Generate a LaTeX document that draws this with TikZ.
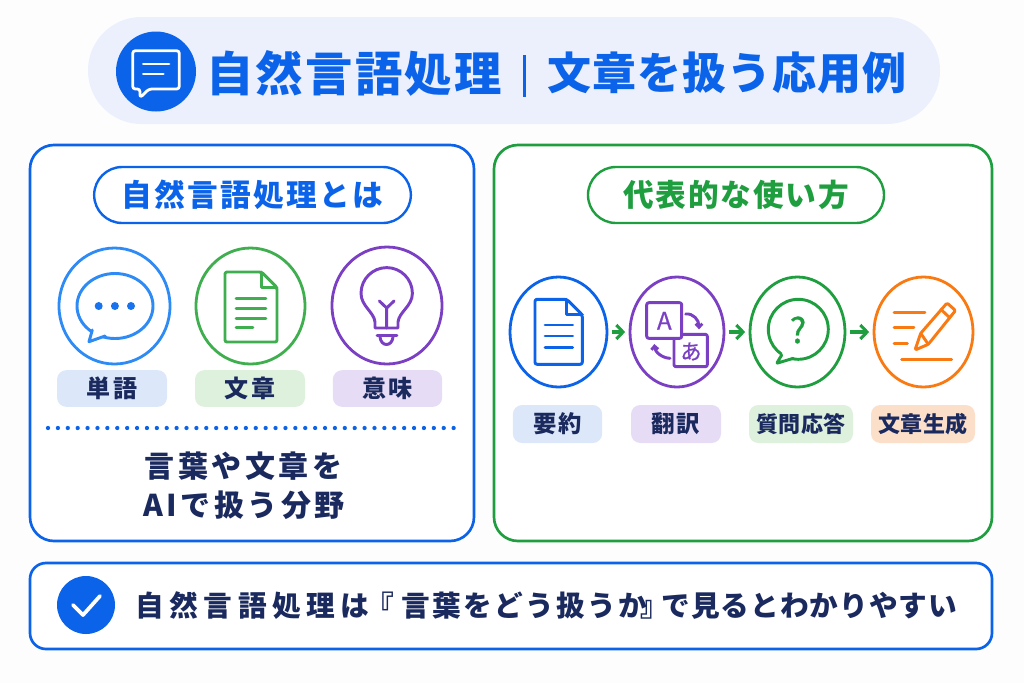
\documentclass[tikz,border=0pt]{standalone}
\usepackage{fontspec}
\usetikzlibrary{shapes.geometric,arrows.meta}
\setmainfont{Noto Sans CJK JP}
\definecolor{pageC}{HTML}{FDFDFE}
\definecolor{blueC}{HTML}{0B63E9}
\definecolor{skyC}{HTML}{2E8BF5}
\definecolor{greenC}{HTML}{1E9E3E}
\definecolor{leafC}{HTML}{3FAE4F}
\definecolor{purpC}{HTML}{7B3FC4}
\definecolor{orngC}{HTML}{F97A12}
\definecolor{navyC}{HTML}{1B2A5E}
\definecolor{titleBg}{HTML}{EBF0FC}
\definecolor{lblBlue}{HTML}{DCE8FA}
\definecolor{lblGreen}{HTML}{DDF1DC}
\definecolor{lblPurp}{HTML}{E6DCF6}
\definecolor{lblOrng}{HTML}{FBDFC9}
\newcommand{\jt}[3]{{\fontsize{#1pt}{#1pt}\selectfont\bfseries\addfontfeature{LetterSpace=#2}#3}}
\newcommand{\docglyph}[9]{%
  % color, x0, x1, y0, y1, fold size, lx0, lx1, line list
  \draw[icon=#1] (#2,#4) -- (#3-#6,#4) -- (#3,#4+#6) -- (#3,#5) -- (#2,#5) -- cycle;
  \draw[icon=#1,sharp corners] (#3-#6,#4) -- (#3-#6,#4+#6) -- (#3,#4+#6);
  \foreach \ly in {#9} {\draw[icon=#1] (#7,\ly) -- (#8,\ly);}
}
\tikzset{
  x=0.75pt,y=-0.75pt,
  panel/.style={draw=#1,line width=2pt,fill=white,rounded corners=18pt},
  pillbox/.style={draw=#1,line width=1.8pt,fill=white,rounded corners=21pt},
  ring/.style n args={3}{ellipse,draw=#1,line width=2.1pt,fill=white,inner sep=0pt,minimum width=#2*0.75pt,minimum height=#3*0.75pt},
  lbl/.style={fill=#1,rounded corners=7pt,inner sep=0pt,text=navyC},
  icon/.style={draw=#1,line width=2.2pt,line cap=round,line join=round,rounded corners=1.5pt},
  flowarrow/.style={draw=greenC,line width=2.3pt,-{Straight Barb[length=5pt,width=10.5pt,line width=2.3pt]},shorten <=2.4pt,shorten >=2.6pt},
  navytext/.style={text=navyC,inner sep=0pt,align=center},
}
\begin{document}
\begin{tikzpicture}
\useasboundingbox (0,0) rectangle (1024,683);
\fill[pageC] (0,0) rectangle (1024,683);
% title
\fill[titleBg,rounded corners=40pt] (88,17) rectangle (940,124);
\node[circle,fill=blueC,inner sep=0pt,minimum size=60pt] (ticon) at (156,71.5) {};
\draw[draw=white,line width=2.1pt,line join=round,rounded corners=2pt] (132.7,50.7) -- (179.3,50.7) -- (179.3,89) -- (149,89) -- (140,97.7) -- (140,89) -- (132.7,89) -- cycle;
\draw[white,line width=2.1pt,line cap=round] (143.3,64) -- (169,64) (143.3,74) -- (163.3,74);
\node[inner sep=0pt,text=blueC,anchor=center] (ttl) at (354,73) {\jt{35.5}{4.8}{自然言語処理}};
\fill[blueC] (523,55) rectangle (525.5,97);
\node[inner sep=0pt,text=blueC,anchor=center] (tt2) at (727,73) {\jt{33}{2.5}{文章を扱う応用例}};
% left panel
\draw[panel=blueC] (30,145) rectangle (474,541);
\node[pillbox=blueC,minimum width=237.5pt,minimum height=42pt,text=blueC,inner sep=0pt] (lpill) at (252.5,195) {\jt{23}{7.6}{自然言語処理とは}};
\node[ring={skyC}{111}{116}] (lc1) at (114.5,306) {};
\node[ring={leafC}{109}{116}] (lc2) at (250.5,306) {};
\node[ring={purpC}{110}{117}] (lc3) at (387,305.5) {};
% speech icon
\draw[icon=skyC] (115,306) ellipse [x radius=38,y radius=32.5];
\fill[white] (93,328) -- (91,340) -- (106,336) -- (108,332) -- cycle;
\draw[icon=skyC,sharp corners] (92.3,330) -- (89,341.7) -- (105,336);
\foreach \dx in {98.7,114.9,131} \fill[blueC!60!skyC] (\dx,306) circle [radius=4];
% document icon green
\docglyph{leafC}{225}{277}{272}{342}{15.5}{236}{266}{298.3,308.3,318.3}
\draw[icon=leafC] (236,327.7) -- (253,327.7);
% bulb
\draw[icon=purpC,rounded corners=0pt] (375,328) -- (375,322) .. controls (374,312) and (361,306) .. (361,293.3) arc [start angle=180,end angle=0,radius=25.7,y radius=-25.7] .. controls (412.4,306) and (399,312) .. (398,322) -- (398,328) -- cycle;
\draw[icon=purpC,rounded corners=0pt] (386.7,328) -- (386.7,308) (379.3,301) -- (386.7,308) -- (394,301);
\draw[icon=purpC,rounded corners=0pt] (377,335.7) -- (397,335.7);
\draw[icon=purpC,rounded corners=0pt] (380,337) .. controls (381,347) and (392,347) .. (393,337);
% labels left
\node[lbl=lblBlue,minimum width=82.5pt,minimum height=27.5pt] (l1) at (112,388.5) {\jt{18}{10}{単語}};
\node[lbl=lblGreen,minimum width=82.5pt,minimum height=27.5pt] (l2) at (250,388.5) {\jt{18}{10}{文章}};
\node[lbl=lblPurp,minimum width=82pt,minimum height=27.5pt] (l3) at (387.5,388.5) {\jt{18}{10}{意味}};
% dotted line
\coordinate (da) at (48,428);
\coordinate (db) at (457,428);
\draw[blueC,line width=3.2pt,line cap=round,dash pattern=on 0pt off 7.42pt] (da) -- (db);
\node[navytext] (lt1) at (243.5,466) {\jt{22.5}{12}{言葉や文章を}};
\node[navytext] (lt2) at (244,505) {\jt{22.5}{12}{AIで扱う分野}};
% right panel
\draw[panel=greenC] (494,145) rectangle (992,541);
\node[pillbox=greenC,minimum width=222pt,minimum height=42pt,text=greenC,inner sep=0pt] (rpill) at (736,195) {\jt{23}{6}{代表的な使い方}};
\node[ring={blueC}{97}{110}] (c1) at (558.5,332) {};
\node[ring={purpC}{94}{110}] (c2) at (677,332) {};
\node[ring={greenC}{95}{110}] (c3) at (797.5,332) {};
\node[ring={orngC}{99}{110}] (c4) at (923.5,332) {};
\draw[flowarrow] (c1) -- (c2);
\draw[flowarrow] (c2) -- (c3);
\draw[flowarrow] (c3) -- (c4);
% doc icon blue
\docglyph{blueC}{535}{582.3}{299.3}{364.3}{15.5}{545}{572.7}{325,336,347.3}
% translate icon
\draw[icon=purpC,fill=white] (674,334.3) rectangle (707.3,366.7);
\draw[icon=purpC,fill=white] (646.7,302.7) rectangle (681.7,338.3);
\node[inner sep=0pt,text=purpC] (ta) at (664.3,320.7) {\fontsize{18}{18}\selectfont\addfontfeature{FakeBold=0.8}A};
\node[inner sep=0pt,text=purpC] (tb) at (691,351.5) {\fontsize{16}{16}\selectfont\addfontfeature{FakeBold=0.8}あ};
\draw[icon=purpC,rounded corners=0pt,-{Straight Barb[length=2.6pt,width=5pt]}] (685.7,314) .. controls (693,313) and (699,320) .. (699,329.3);
\draw[icon=purpC,rounded corners=0pt,-{Straight Barb[length=2.6pt,width=5pt]}] (670,358.3) .. controls (662,358) and (655,352) .. (654.3,344);
% question icon
\draw[icon=greenC,rounded corners=0pt] (798.3,329.3) circle [radius=30];
\fill[white] (783,352) -- (778,362) -- (794,358) -- cycle;
\draw[icon=greenC,rounded corners=0.5pt] (781.7,355) -- (776.7,363.3) -- (793.3,358.3);
\node[inner sep=0pt,text=greenC] (qm) at (798,330) {\fontsize{26}{26}\selectfont\addfontfeature{FakeBold=0.8}?};
% pencil icon
\draw[icon=orngC,rounded corners=0pt] (894,312.3) -- (925,312.3) (894,327.7) -- (914,327.7) (894,343.3) -- (907.3,343.3) (901.7,359.3) -- (951.7,359.3);
\draw[icon=orngC,rounded corners=1pt] (915,350) -- (920.7,333.3) -- (947,303) -- (955.5,310.5) -- (928.3,344.3) -- cycle;
\draw[icon=orngC,rounded corners=0pt] (920.7,333.3) -- (928.3,344.3) (941,309.5) -- (949.5,317.5);
% labels right
\node[lbl=lblBlue,minimum width=67pt,minimum height=28.5pt] (r1) at (557.5,424) {\jt{17.5}{6}{要約}};
\node[lbl=lblPurp,minimum width=67.5pt,minimum height=28.5pt] (r2) at (676,424) {\jt{17.5}{6}{翻訳}};
\node[lbl=lblGreen,minimum width=78pt,minimum height=28.5pt] (r3) at (801,424) {\jt{16.5}{1.5}{質問応答}};
\node[lbl=lblOrng,minimum width=78pt,minimum height=28.5pt] (r4) at (923,424) {\jt{16.5}{1.5}{文章生成}};
% bottom
\draw[draw=blueC,line width=2pt,fill=white,rounded corners=12pt] (30,563) rectangle (992,649);
\node[circle,fill=blueC,inner sep=0pt,minimum size=43.5pt] (chk) at (86,605) {};
\draw[white,line width=2.8pt,line cap=round,line join=round] (73,605) -- (83,615) -- (100,596);
\node[navytext,anchor=west] (bt) at (135,606) {\jt{21.5}{19.5}{自然言語処理は}\kern-3.2pt\jt{21.5}{0}{『}\kern5.6pt\jt{21.5}{8}{言葉をどう扱うか}\kern-4.7pt\jt{21.5}{0}{』}\kern-5.8pt\jt{21.5}{3.6}{で見るとわかりやすい}};
\end{tikzpicture}
\end{document}
